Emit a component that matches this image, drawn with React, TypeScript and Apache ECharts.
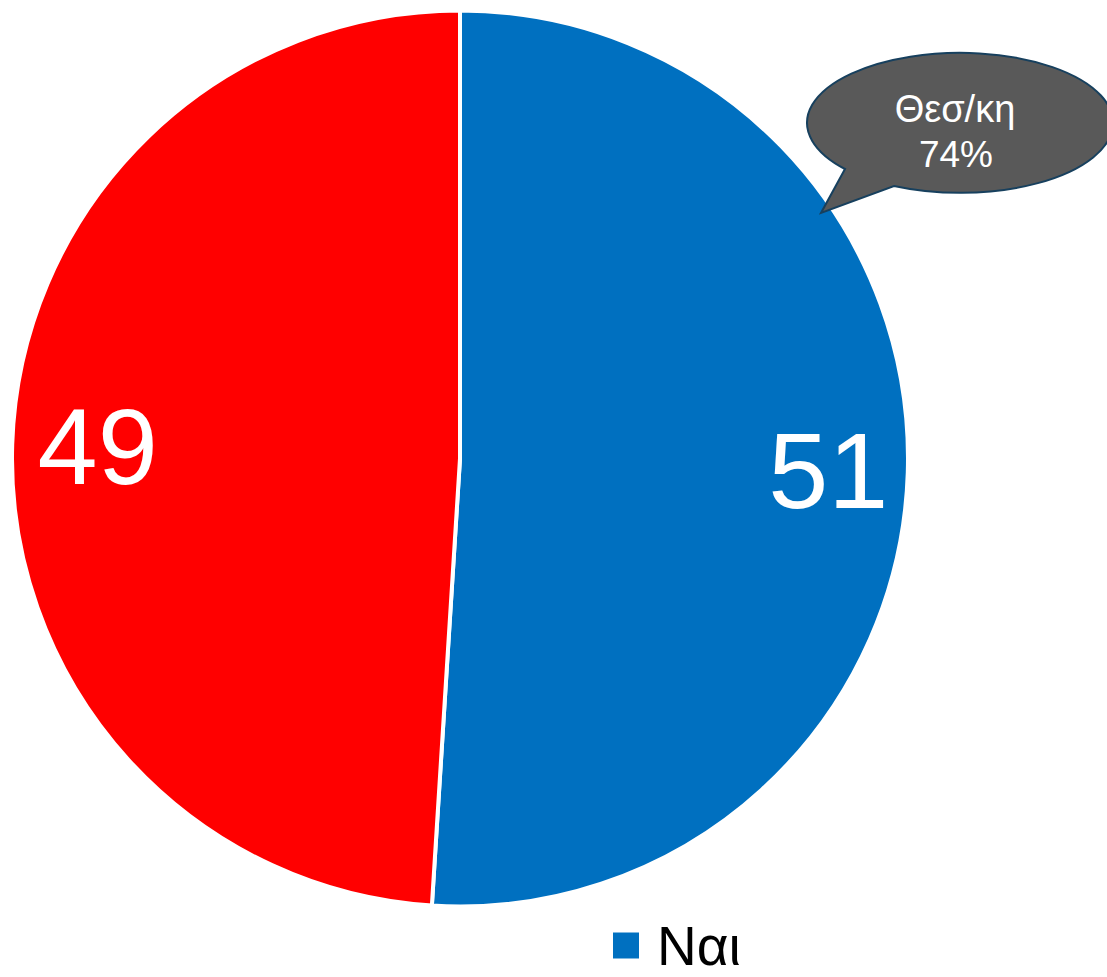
import React, { useEffect, useRef } from "react";
import * as echarts from "echarts";

const categories = ["Ναι", "Όχι"];
const values = [51, 49];
const colors = ["#0070C0", "#FF0000"];
const legendItems = ["Ναι"];
const calloutLines = ["Θεσ/κη", "74%"];

const FONT = "'Liberation Sans', Arial, sans-serif";

// callout bubble outline (ellipse + tail)
const CX = 954, CY = 122, RX = 153, RY = 70;
const calloutPath = `M 845 169 L 821 213 L 894 186 A ${RX} ${RY} 0 1 0 845 169 Z`;
echarts.graphic.registerShape("callout", echarts.graphic.extendPath(calloutPath, {}) as any);

export default function App() {
  const ref = useRef<HTMLDivElement>(null);
  useEffect(() => {
    if (!ref.current) return;
    const chart = echarts.init(ref.current, undefined, { renderer: "svg" });
    const data = categories.map((name, i) => ({
      name,
      value: values[i],
      itemStyle: { color: colors[i] },
    }));
    chart.setOption({
      animation: false,
      backgroundColor: "#ffffff",
      legend: {
        data: legendItems,
        left: 606,
        top: 913,
        itemWidth: 28,
        itemHeight: 28,
        icon: "rect",
        textStyle: {
          fontSize: 55,
          lineHeight: 50,
          color: "#000000",
          fontFamily: FONT,
          padding: [0, 0, 0, 12],
        },
        selectedMode: false,
      },
      series: [
        {
          type: "pie",
          center: [460, 458.5],
          radius: [0, 448],
          startAngle: 90,
          clockwise: true,
          data,
          label: { show: false },
          labelLine: { show: false },
          itemStyle: { borderColor: "#ffffff", borderWidth: 4 },
          silent: true,
        },
        {
          type: "pie",
          center: [460, 458.5],
          radius: [283, 448],
          startAngle: 90,
          clockwise: true,
          data: data.map((d, i) => ({
            ...d,
            itemStyle: { color: "rgba(0,0,0,0)", borderWidth: 0 },
            label: i === 1 ? { padding: [0, 0, 0, 12] } : {},
          })),
          label: {
            show: true,
            position: "inside",
            formatter: "{c}",
            color: "#ffffff",
            fontSize: 108,
            fontFamily: FONT,
          },
          labelLine: { show: false },
          silent: true,
        },
      ],
      graphic: [
        {
          type: "callout",
          x: 0,
          y: 0,
          style: { fill: "#595959", stroke: "#17405E", lineWidth: 2 },
          z: 10,
        },
        {
          type: "text",
          x: CX + 1,
          y: 109,
          z: 11,
          style: {
            text: calloutLines[0],
            fill: "#ffffff",
            font: `38px ${FONT}`,
            textAlign: "center",
            textVerticalAlign: "middle",
          },
        },
        {
          type: "text",
          x: CX + 2,
          y: 154,
          z: 11,
          style: {
            text: calloutLines[1],
            fill: "#ffffff",
            font: `37px ${FONT}`,
            textAlign: "center",
            textVerticalAlign: "middle",
          },
        },
      ],
    });
    return () => chart.dispose();
  }, []);
  return (
    <div
      ref={ref}
      style={{ position: "fixed", left: 0, top: 0, width: 1107, height: 977 }}
    />
  );
}
